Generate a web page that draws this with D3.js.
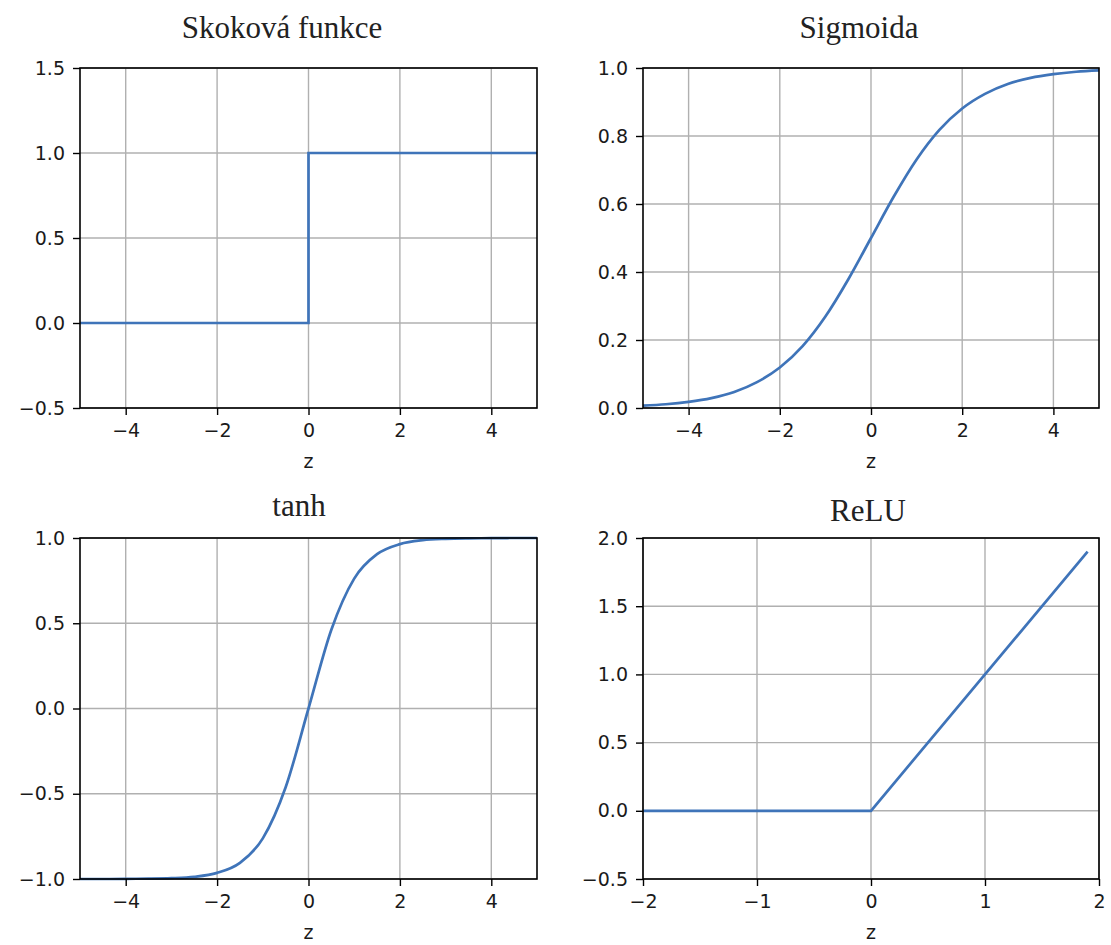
<!DOCTYPE html>
<html>
<head>
<meta charset="utf-8">
<script src="https://cdn.jsdelivr.net/npm/d3@7"></script>
<style>
  html, body { margin: 0; padding: 0; background: #fff; }
  .tick text { font-family: "DejaVu Sans", sans-serif; font-size: 19px; fill: #1a1a1a; }
  .title { font-family: "Liberation Serif", "Times New Roman", serif; font-size: 31px; fill: #222; }
  .xlabel { font-family: "DejaVu Sans", sans-serif; font-size: 19px; fill: #1a1a1a; }
</style>
</head>
<body>
<div id="chart"></div>
<script>
// Values
const titles = ['Skoková funkce', 'Sigmoida', 'tanh', 'ReLU'];

const stepZ = [-5, 0, 0, 5];
const stepY = [0, 0, 1, 1];

const sigZ = [-5, -4.5, -4, -3.5, -3, -2.5, -2, -1.5, -1, -0.5, 0, 0.5, 1, 1.5, 2, 2.5, 3, 3.5, 4, 4.5, 5];
const sigY = [0.007, 0.011, 0.018, 0.029, 0.047, 0.076, 0.119, 0.182, 0.269, 0.378, 0.5,
              0.622, 0.731, 0.818, 0.881, 0.924, 0.953, 0.971, 0.982, 0.989, 0.993];

const tanhZ = [-5, -4.5, -4, -3.5, -3, -2.5, -2, -1.5, -1, -0.5, 0, 0.5, 1, 1.5, 2, 2.5, 3, 3.5, 4, 4.5, 5];
const tanhY = [-1.0, -1.0, -0.999, -0.998, -0.995, -0.987, -0.964, -0.905, -0.762, -0.462, 0,
               0.462, 0.762, 0.905, 0.964, 0.987, 0.995, 0.998, 0.999, 1.0, 1.0];

const reluZ = [-2, 0, 1.9];
const reluY = [0, 0, 1.9];

const xTicksWide = [-4, -2, 0, 2, 4];
const xTicksRelu = [-2, -1, 0, 1, 2];
const yTicksStep = [-0.5, 0, 0.5, 1.0, 1.5];
const yTicksSig = [0, 0.2, 0.4, 0.6, 0.8, 1.0];
const yTicksTanh = [-1.0, -0.5, 0, 0.5, 1.0];
const yTicksRelu = [-0.5, 0, 0.5, 1.0, 1.5, 2.0];

(function main(){
  const width = 1111, height = 945;
  const lineColor = '#3f74b9';
  const gridColor = '#b0b0b0';

  const svg = d3.select('#chart').append('svg')
    .attr('width', width).attr('height', height);

  // panel boxes in pixels (layout), plus titles' centre positions
  const panels = [
    { title: titles[0], z: stepZ, v: stepY, xd: [-5, 5], yd: [-0.5, 1.5], xt: xTicksWide, yt: yTicksStep,
      box: [80, 68, 537, 408], tx: 282, ty: 38, curve: d3.curveLinear },
    { title: titles[1], z: sigZ, v: sigY, xd: [-5, 5], yd: [0, 1], xt: xTicksWide, yt: yTicksSig,
      box: [643, 68, 1099, 408], tx: 859, ty: 38, curve: d3.curveMonotoneX },
    { title: titles[2], z: tanhZ, v: tanhY, xd: [-5, 5], yd: [-1, 1], xt: xTicksWide, yt: yTicksTanh,
      box: [80, 538, 537, 879], tx: 299, ty: 516, curve: d3.curveMonotoneX },
    { title: titles[3], z: reluZ, v: reluY, xd: [-2, 2], yd: [-0.5, 2], xt: xTicksRelu, yt: yTicksRelu,
      box: [643, 538, 1099, 879], tx: 868, ty: 521, curve: d3.curveLinear }
  ];

  const minus = s => s.replace('-', '\u2212');
  const fmtX = d => minus(d3.format('d')(d));
  const fmtY = d => minus(d3.format('.1f')(d));

  panels.forEach(p => {
    const [x0, y0, x1, y1] = p.box;
    const x = d3.scaleLinear().domain(p.xd).range([x0, x1]);
    const y = d3.scaleLinear().domain(p.yd).range([y1, y0]);
    const g = svg.append('g');

    // grid
    g.append('g').selectAll('line.gx').data(p.xt).enter().append('line')
      .attr('x1', d => x(d)).attr('x2', d => x(d)).attr('y1', y0).attr('y2', y1)
      .attr('stroke', gridColor).attr('stroke-width', 1.4);
    g.append('g').selectAll('line.gy').data(p.yt).enter().append('line')
      .attr('y1', d => y(d)).attr('y2', d => y(d)).attr('x1', x0).attr('x2', x1)
      .attr('stroke', gridColor).attr('stroke-width', 1.4);

    // curve
    const pts = p.z.map((z, i) => ({ z, v: p.v[i] }));
    g.append('path')
      .datum(pts)
      .attr('fill', 'none')
      .attr('stroke', lineColor)
      .attr('stroke-width', 2.7)
      .attr('stroke-linejoin', 'miter')
      .attr('d', d3.line().x(d => x(d.z)).y(d => y(d.v)).curve(p.curve));

    // axes
    const ax = g.append('g').attr('transform', `translate(0,${y1})`)
      .call(d3.axisBottom(x).tickValues(p.xt).tickFormat(fmtX).tickSize(7).tickPadding(9));
    const ay = g.append('g').attr('transform', `translate(${x0},0)`)
      .call(d3.axisLeft(y).tickValues(p.yt).tickFormat(fmtY).tickSize(7).tickPadding(8));
    [ax, ay].forEach(a => {
      a.select('.domain').remove();
      a.selectAll('.tick line').attr('stroke', '#000').attr('stroke-width', 1.4);
      a.selectAll('.tick text').attr('font-size', null).attr('font-family', null);
    });

    // frame
    g.append('rect')
      .attr('x', x0).attr('y', y0).attr('width', x1 - x0).attr('height', y1 - y0)
      .attr('fill', 'none').attr('stroke', '#000').attr('stroke-width', 1.6);

    // title and x label
    svg.append('text').attr('class', 'title')
      .attr('x', p.tx).attr('y', p.ty).attr('text-anchor', 'middle').text(p.title);
    svg.append('text').attr('class', 'xlabel')
      .attr('x', (x0 + x1) / 2).attr('y', y1 + 60).attr('text-anchor', 'middle').text('z');
  });
})();
</script>
</body>
</html>
